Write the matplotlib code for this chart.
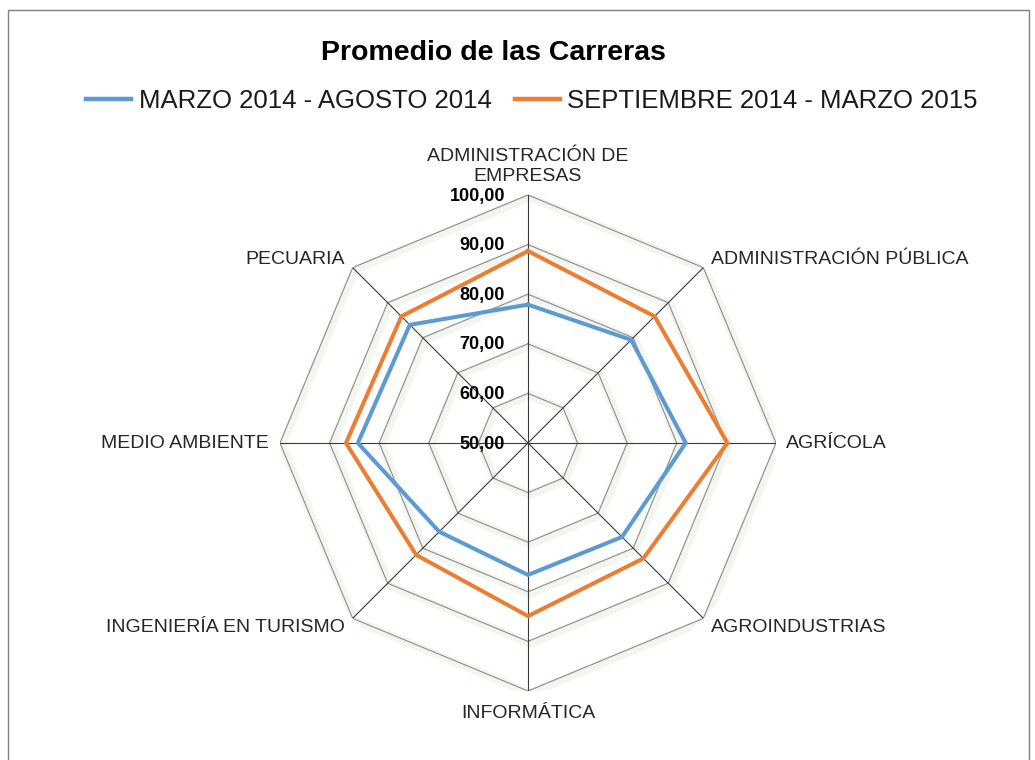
import numpy as np
import matplotlib
matplotlib.use('Agg')
import matplotlib.pyplot as plt
import matplotlib.patheffects as pe
from matplotlib.lines import Line2D
from matplotlib.patches import Rectangle

plt.rcParams['font.family'] = ['Liberation Sans', 'DejaVu Sans']

# %% data
categories = ['ADMINISTRACIÓN DE\nEMPRESAS', 'ADMINISTRACIÓN PÚBLICA', 'AGRÍCOLA',
              'AGROINDUSTRIAS', 'INFORMÁTICA', 'INGENIERÍA EN TURISMO',
              'MEDIO AMBIENTE', 'PECUARIA']
serie_1 = [77.9, 79.4, 81.8, 76.8, 76.6, 75.3, 84.3, 83.7]
serie_2 = [88.7, 86.1, 90.2, 82.9, 84.9, 81.9, 86.7, 86.1]
series_names = ['MARZO 2014 - AGOSTO 2014', 'SEPTIEMBRE 2014 - MARZO 2015']
ring_values = [50, 60, 70, 80, 90, 100]
ring_labels = ['50,00', '60,00', '70,00', '80,00', '90,00', '100,00']
title = 'Promedio de las Carreras'

blue = '#5B9BD5'
orange = '#ED7D31'

# %% figure
W, H = 1035, 760
fig = plt.figure(figsize=(W / 100, H / 100), dpi=100)

# chart frame
fig.patches.append(Rectangle((8 / W, -0.02), 1021 / W, 1.02 - 10 / H,
                             transform=fig.transFigure, fill=False,
                             edgecolor='#7f7f7f', linewidth=1.0))

# axes placed so that centre and radius match
cx, cy, R = 528, 443, 248
ax = fig.add_axes([(cx - R) / W, (H - cy - R) / H, 2 * R / W, 2 * R / H],
                  projection='polar')
ax.set_theta_zero_location('N')
ax.set_theta_direction(-1)
ax.set_ylim(50, 100)
ax.grid(False)
ax.spines['polar'].set_visible(False)
ax.set_xticks([])
ax.set_yticks([])
ax.patch.set_alpha(0)

n = len(categories)
theta = np.arange(n) * 2 * np.pi / n
theta_c = np.append(theta, theta[0])

glow = [pe.SimpleLineShadow(offset=(1.5, -1.5), shadow_color='#dfe8d3',
                            linewidth=6, alpha=0.35), pe.Normal()]

# octagon rings
for v in ring_values:
    ax.plot(theta_c, [v] * (n + 1), color='#8c8c8c', linewidth=0.8,
            path_effects=glow, zorder=1)
# spokes
for t in theta:
    ax.plot([t, t], [50, 100], color='#3a3a3a', linewidth=0.8, zorder=2)

# series
for vals, col, name in zip([serie_1, serie_2], [blue, orange], series_names):
    ax.plot(theta_c, list(vals) + [vals[0]], color=col, linewidth=2.9,
            solid_joinstyle='miter', label=name, zorder=3)

# ring value labels
for v, lab in zip(ring_values, ring_labels):
    ax.annotate(lab, xy=(0, v), xytext=(-23, -1), textcoords='offset pixels',
                ha='right', va='center', fontsize=13, fontweight='bold',
                color='black', zorder=4)

# category labels
label_pos = [
    ((0, 10), 'center', 'bottom'),
    ((8, 0), 'left', 'bottom'),
    ((10, 0), 'left', 'center'),
    ((8, -1), 'left', 'top'),
    ((0, -14), 'center', 'top'),
    ((-8, -1), 'right', 'top'),
    ((-11, 0), 'right', 'center'),
    ((-8, 0), 'right', 'bottom'),
]
for t, lab, (off, ha, va) in zip(theta, categories, label_pos):
    ax.annotate(lab, xy=(t, 100), xytext=off, textcoords='offset pixels',
                ha=ha, va=va, fontsize=14, color='#262626',
                multialignment='center', linespacing=1.25)

# title
fig.text(493 / W, 1 - 53 / H, title, ha='center', va='center',
         fontsize=20.5, fontweight='bold', color='black')

# legend
handles = [Line2D([], [], color=blue, linewidth=3.2),
           Line2D([], [], color=orange, linewidth=3.2)]
fig.legend(handles, series_names, loc='center', bbox_to_anchor=(532 / W, 1 - 101 / H),
           ncol=2, frameon=False, fontsize=18.5, handlelength=1.75,
           handletextpad=0.3, columnspacing=0.9, labelcolor='#1a1a1a')

fig.savefig('out.png', dpi=100)
